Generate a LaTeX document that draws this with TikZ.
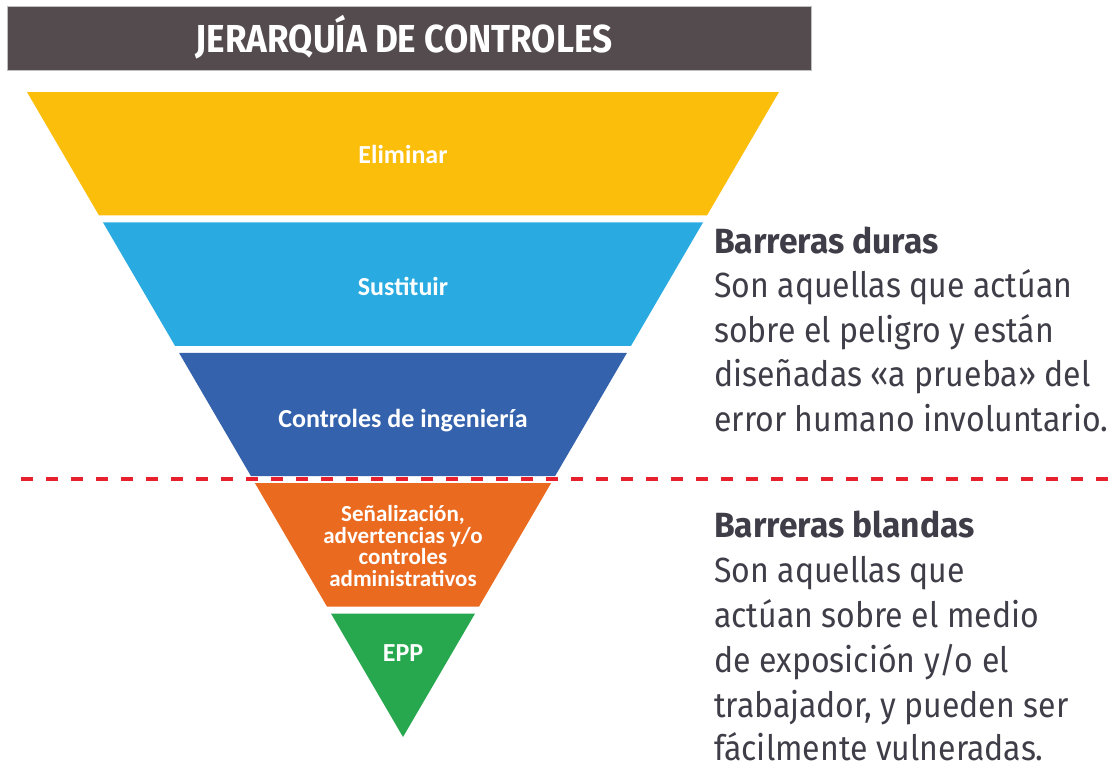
\documentclass[tikz,border=0pt]{standalone}
\usepackage{fontspec}
\setmainfont{Carlito}
\newfontfamily\rfont[FakeStretch=0.915]{Fira Sans}
\newfontfamily\hfont[FakeStretch=0.96]{Fira Sans}
\newfontfamily\tfont[FakeStretch=0.9]{Fira Sans}
\definecolor{barbg}{HTML}{544B4E}
\definecolor{cyel}{HTML}{FBBE0A}
\definecolor{clbl}{HTML}{29ABE2}
\definecolor{cdbl}{HTML}{3462AC}
\definecolor{corg}{HTML}{EA6A20}
\definecolor{cgrn}{HTML}{27A84F}
\definecolor{cred}{HTML}{E8202E}
\definecolor{txtgray}{HTML}{3F3D47}
\tikzset{
  lbl/.style={text=white, font=\bfseries\fontsize{26}{21}\selectfont, inner sep=0pt, anchor=base},
  mlbl/.style={text=white, font=\bfseries\fontsize{23}{21.5}\selectfont, inner sep=0pt, align=center},
  rtxt/.style={text=txtgray, font=\rfont\fontsize{35}{44}\selectfont, inner sep=0pt, anchor=base west},
  rhead/.style={rtxt, font=\hfont\bfseries\fontsize{35}{44}\selectfont},
  dashline/.style={draw=cred, line width=3.5pt, dash pattern=on 12pt off 13pt},
}
\begin{document}
\begin{tikzpicture}[x=1pt,y=-1pt]
\useasboundingbox (0,0) rectangle (1110,769);
% title bar
\fill[barbg, draw=black!25, line width=0.8pt] (7,6) rectangle (811,70);
\node[text=white, font=\tfont\bfseries\fontsize{39}{44}\selectfont, inner sep=0pt, anchor=base] (title) at (404,52) {JERARQUÍA DE CONTROLES};
% pyramid bands
\fill[cyel] (27,92) -- (779,92) -- (707,215.4) -- (99,215.4) -- cycle;
\fill[clbl] (103,222.4) -- (703,222.4) -- (631,345.8) -- (175,345.8) -- cycle;
\fill[cdbl] (179,352.8) -- (627,352.8) -- (555,476.2) -- (251,476.2) -- cycle;
\fill[corg] (255,483.2) -- (551,483.2) -- (479,606.6) -- (327,606.6) -- cycle;
\fill[cgrn] (331,613.6) -- (475,613.6) -- (403,737) -- cycle;
% labels
\node[lbl] (elim) at (403,163) {Eliminar};
\node[lbl] (sust) at (403,295) {Sustituir};
\node[lbl] (ing) at (403,427) {Controles de ingeniería};
\node[mlbl] (adm) at (403,546) {Señalización,\\advertencias y/o\\controles\\administrativos};
\node[lbl] (epp) at (403,661) {EPP};
% dashed divider
\coordinate (dl) at (21,479);
\coordinate (dr) at (1108,479);
\draw[dashline] (dl) -- (dr);
% right texts
\node[rhead] (d0) at (714,253) {Barreras duras};
\node[rtxt] (d1) at (714,297.5) {Son aquellas que actúan};
\node[rtxt] (d2) at (714,342) {sobre el peligro y están};
\node[rtxt] (d3) at (714,386.5) {diseñadas «a prueba» del};
\node[rtxt] (d4) at (714,431) {error humano involuntario.};
\node[rhead] (b0) at (714,537) {Barreras blandas};
\node[rtxt] (b1) at (714,582) {Son aquellas que};
\node[rtxt] (b2) at (714,627) {actúan sobre el medio};
\node[rtxt] (b3) at (714,672) {de exposición y/o el};
\node[rtxt] (b4) at (714,717) {trabajador, y pueden ser};
\node[rtxt] (b5) at (714,760) {fácilmente vulneradas.};
\end{tikzpicture}
\end{document}
